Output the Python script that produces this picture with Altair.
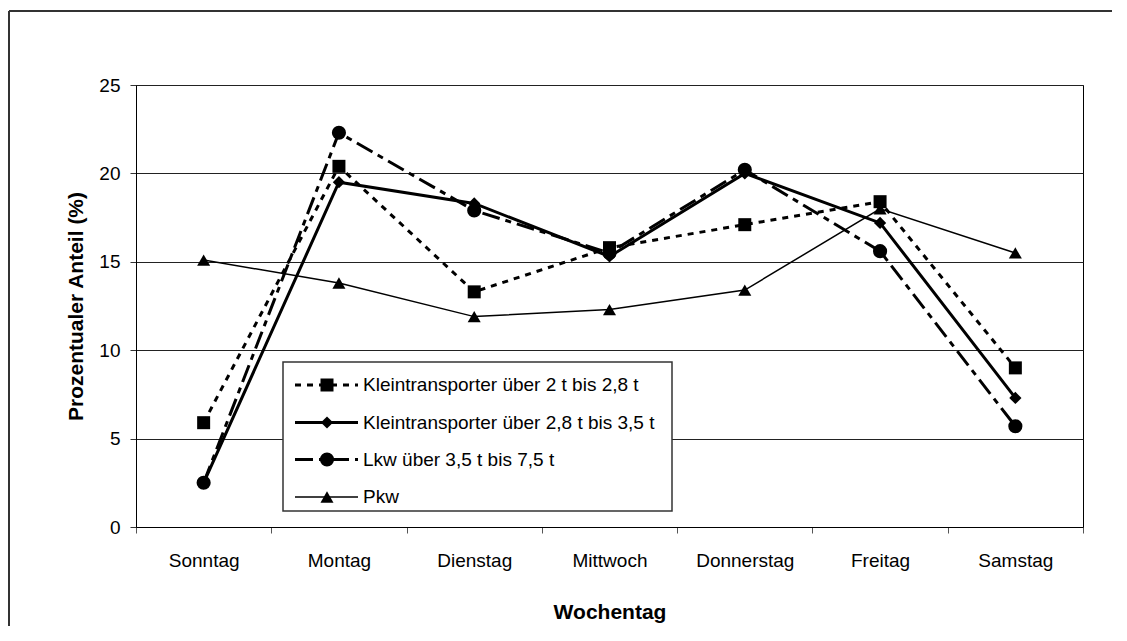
import altair as alt
import pandas as pd

days = ["Sonntag", "Montag", "Dienstag", "Mittwoch", "Donnerstag", "Freitag", "Samstag"]
kt_2_28 = [5.9, 20.4, 13.3, 15.8, 17.1, 18.4, 9.0]
kt_28_35 = [2.5, 19.5, 18.3, 15.3, 20.0, 17.2, 7.3]
lkw = [2.5, 22.3, 17.9, 15.5, 20.2, 15.6, 5.7]
pkw = [15.1, 13.8, 11.9, 12.3, 13.4, 18.0, 15.5]
series_names = [
    "Kleintransporter über 2 t bis 2,8 t",
    "Kleintransporter über 2,8 t bis 3,5 t",
    "Lkw über 3,5 t bis 7,5 t",
    "Pkw",
]
series_values = [kt_2_28, kt_28_35, lkw, pkw]
y_ticks = [0, 5, 10, 15, 20, 25]

W, H = 947, 442
FONT = "Liberation Sans"

styles = [
    dict(dash=[6, 6], width=3, shape="square", size=169),
    dict(dash=None, width=3, shape="diamond", size=150),
    dict(dash=[18, 6, 6, 6], width=3, shape="circle", size=200),
    dict(dash=None, width=1.5, shape="triangle-up", size=170),
]

rows = []
for name, vals in zip(series_names, series_values):
    for d, v in zip(days, vals):
        rows.append({"Serie": name, "Wochentag": d, "Wert": v})
df = pd.DataFrame(rows)

x_enc = alt.X(
    "Wochentag:N",
    sort=days,
    bandPosition=0.5,
    scale=alt.Scale(type="band", domain=days, paddingInner=0, paddingOuter=0),
    axis=alt.Axis(
        title="Wochentag", tickBand="extent", labelAngle=0, grid=False,
        tickSize=6, labelPadding=18, titlePadding=31,
        labelFontSize=19, titleFontSize=21, titleFontWeight="bold",
        domainColor="black", tickColor="#555", labelColor="black", titleColor="black",
    ),
)
y_enc = alt.Y(
    "Wert:Q",
    scale=alt.Scale(domain=[0, 25], nice=False, zero=True),
    axis=alt.Axis(
        title="Prozentualer Anteil (%)", values=y_ticks, grid=True,
        gridColor="#222", gridWidth=1, tickSize=6, labelPadding=10, titlePadding=12,
        labelFontSize=19, titleFontSize=21, titleFontWeight="bold",
        domainColor="black", tickColor="#333", labelColor="black", titleColor="black",
    ),
)

layers = []
for name, st in zip(series_names, styles):
    sub = alt.Chart(df).transform_filter(alt.datum.Serie == name)
    largs = dict(color="black", strokeWidth=st["width"])
    if st["dash"]:
        largs["strokeDash"] = st["dash"]
    layers.append(sub.mark_line(**largs).encode(x=x_enc, y=y_enc))
for name, st in zip(series_names, styles):
    sub = alt.Chart(df).transform_filter(alt.datum.Serie == name)
    layers.append(
        sub.mark_point(shape=st["shape"], filled=True, size=st["size"], color="black", opacity=1)
        .encode(x=x_enc, y=y_enc)
    )

one = alt.Chart(pd.DataFrame({"a": [0]}))

# legend box
layers.append(
    one.mark_rect(fill="white", stroke="#333", strokeWidth=1.5).encode(
        x=alt.value(147), x2=alt.value(536), y=alt.value(277), y2=alt.value(426)
    )
)
leg_y = [300, 337.5, 374.5, 412]
for name, st, ly in zip(series_names, styles, leg_y):
    rargs = dict(color="black", strokeWidth=st["width"])
    if st["dash"]:
        rargs["strokeDash"] = st["dash"]
    layers.append(
        one.mark_rule(**rargs).encode(x=alt.value(159), x2=alt.value(222), y=alt.value(ly))
    )
    layers.append(
        one.mark_point(shape=st["shape"], filled=True, size=st["size"], color="black", opacity=1)
        .encode(x=alt.value(191), y=alt.value(ly))
    )
    layers.append(
        one.mark_text(align="left", baseline="middle", fontSize=19, font=FONT, color="black", text=name)
        .encode(x=alt.value(227), y=alt.value(ly))
    )

# outer frame: top and left edges (right/bottom lie outside the picture)
layers.append(
    one.mark_rule(color="#333", strokeWidth=2).encode(
        x=alt.value(-127), x2=alt.value(W + 29), y=alt.value(-74)
    )
)
layers.append(
    one.mark_rule(color="#333", strokeWidth=2).encode(
        x=alt.value(-127), y=alt.value(-74), y2=alt.value(H + 99)
    )
)

chart = (
    alt.layer(*layers)
    .properties(
        width=W, height=H,
        padding={"left": 128, "top": 77, "right": 30, "bottom": 100},
        autosize=alt.AutoSizeParams(type="none"),
        background="white",
    )
    .configure(font=FONT)
    .configure_axis(labelFont=FONT, titleFont=FONT)
    .configure_view(stroke="black", strokeWidth=1)
)

chart.save("out.html", embed_options={"renderer": "svg", "actions": False})
